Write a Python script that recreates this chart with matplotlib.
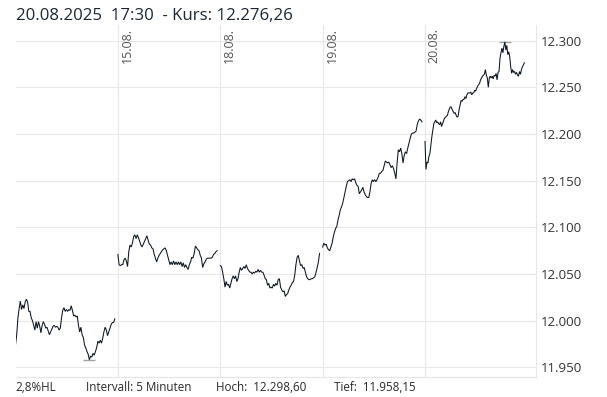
import numpy as np
import matplotlib
matplotlib.use("Agg")
import matplotlib.pyplot as plt

plt.rcParams['font.family'] = ['Open Sans', 'DejaVu Sans']

day_labels = ["14.08.", "15.08.", "18.08.", "19.08.", "20.08."]

day1 = [11974, 11985, 12003, 12013, 12021, 12012, 12017, 12013, 12020, 12023, 12020, 12010, 12010, 12003,
        12000, 11995, 11990, 11999, 11992, 11999, 11994, 11987, 11995, 11999, 11996, 11992, 11993, 11989,
        11985, 11988, 11991, 11994, 11995, 11993, 11994, 11993, 11990, 11992, 12003, 12011, 12014, 12010,
        12012, 12010, 12012, 12011, 12016, 12011, 12005, 12006, 12004, 12005, 11995, 11988, 11993, 11985,
        11982, 11974, 11971, 11967, 11964, 11958.15, 11962, 11961, 11965, 11963, 11967, 11971, 11978, 11976,
        11979, 11976, 11981, 11988, 11993, 11990, 11984, 11988, 11992, 11996, 11998, 11998, 12002]
day2 = [12071, 12060, 12059, 12060, 12060, 12065, 12067, 12064, 12058, 12074, 12081, 12079, 12083, 12090,
        12092, 12088, 12092, 12089, 12085, 12081, 12079, 12082, 12085, 12088, 12091, 12086, 12082, 12081,
        12078, 12077, 12071, 12067, 12063, 12067, 12070, 12072, 12074, 12076, 12077, 12078, 12075, 12070,
        12065, 12060, 12063, 12060, 12064, 12060, 12063, 12060, 12063, 12060, 12063, 12058, 12062, 12057,
        12060, 12057, 12055, 12060, 12063, 12068, 12067, 12072, 12080, 12078, 12076, 12075, 12070, 12067,
        12057, 12061, 12063, 12066, 12067, 12067, 12067, 12067, 12068, 12071, 12072, 12074, 12075]
day3 = [12059, 12058, 12052, 12045, 12036, 12042, 12038, 12039, 12035, 12040, 12045, 12048, 12045, 12048,
        12042, 12045, 12052, 12057, 12054, 12056, 12058, 12056, 12060, 12056, 12054, 12052, 12052, 12050,
        12052, 12051, 12053, 12052, 12055, 12052, 12054, 12052, 12052, 12049, 12045, 12044, 12038, 12040,
        12035, 12036, 12035, 12039, 12037, 12040, 12038, 12044, 12045, 12036, 12033, 12031, 12032, 12026,
        12028, 12029, 12033, 12036, 12038, 12041, 12042, 12049, 12060, 12068, 12070, 12064, 12059, 12060,
        12056, 12057, 12052, 12047, 12045, 12044, 12044, 12045, 12045, 12046, 12047, 12052, 12057, 12063, 12072]
day4 = [12079, 12083, 12081, 12082, 12078, 12076, 12075, 12079, 12083, 12090, 12095, 12099, 12101, 12108,
        12113, 12119, 12122, 12126, 12132, 12138, 12144, 12149, 12150, 12151, 12149, 12152, 12151, 12152,
        12148, 12145, 12144, 12136, 12138, 12140, 12143, 12138, 12135, 12133, 12132, 12132, 12138, 12147,
        12151, 12149, 12151, 12149, 12151, 12154, 12158, 12158, 12160, 12161, 12166, 12171, 12170, 12169,
        12170, 12167, 12164, 12166, 12163, 12158, 12152, 12169, 12183, 12181, 12185, 12179, 12169, 12177,
        12181, 12179, 12185, 12190, 12195, 12200, 12201, 12201, 12202, 12203, 12210, 12214, 12216, 12215, 12213]
day5 = [12192, 12162, 12170, 12169, 12176, 12179, 12188, 12197, 12204, 12211, 12213, 12215, 12212, 12213,
        12211, 12210, 12213, 12208, 12211, 12214, 12217, 12218, 12219, 12220, 12224, 12227, 12229, 12229,
        12226, 12224, 12222, 12223, 12220, 12218, 12219, 12226, 12231, 12236, 12235, 12237, 12237, 12240,
        12238, 12242, 12244, 12244, 12244, 12245, 12242, 12244, 12244, 12247, 12246, 12249, 12251, 12253,
        12254, 12258, 12260, 12262, 12263, 12264, 12269, 12263, 12260, 12250, 12260, 12262, 12260, 12262,
        12259, 12263, 12262, 12265, 12258, 12266, 12267, 12281, 12287, 12292, 12287, 12294, 12298.6, 12290,
        12295, 12285, 12288, 12283, 12272, 12265, 12269, 12266, 12267, 12264, 12266, 12263, 12262, 12267,
        12264, 12269, 12272, 12274, 12276.26]
days = [day1, day2, day3, day4, day5]

y_ticks = [11950, 12000, 12050, 12100, 12150, 12200, 12250, 12300]
y_tick_labels = ["11.950", "12.000", "12.050", "12.100", "12.150", "12.200", "12.250", "12.300"]

title_text = "20.08.2025  17:30  - Kurs: 12.276,26"
footer_texts = ["2,8%HL", "Intervall: 5 Minuten", "Hoch:  12.298,60", "Tief:  11.958,15"]

LINE = '#0b1520'
GRID = '#e8e8e8'

fig = plt.figure(figsize=(6.07, 3.97), dpi=100)
ax = fig.add_axes([15.5 / 607, 1 - 376.7 / 397, (536 - 15.5) / 607, (376.7 - 25) / 397])

xs_all, ys_all = [], []
for i, d in enumerate(days):
    xs = i + np.linspace(0, 0.97, len(d))
    ax.plot(xs, d, color=LINE, lw=0.75, solid_joinstyle='miter', zorder=3)
    xs_all.extend(xs)
    ys_all.extend(d)
xs_all = np.array(xs_all)
ys_all = np.array(ys_all)
imax = int(np.argmax(ys_all))
imin = int(np.argmin(ys_all))
ax.plot([xs_all[imax]], [ys_all[imax]], marker='_', markersize=8.5, mew=1.0, color='#a0a0a0', zorder=2)
ax.plot([xs_all[imin]], [ys_all[imin]], marker='_', markersize=8.5, mew=1.0, color='#a0a0a0', zorder=2)

ax.set_xlim(0, 5.084)
ax.set_ylim(11940, 12316.8)

ax.set_yticks(y_ticks)
ax.set_yticklabels(y_tick_labels)
ax.yaxis.tick_right()
ax.tick_params(axis='y', length=0, pad=3.6, labelsize=9.5, labelcolor='#333333')
ax.set_xticks([1, 2, 3, 4])
ax.tick_params(axis='x', length=0, labelbottom=False)
ax.grid(True, color=GRID, lw=0.8)
ax.set_axisbelow(True)

for s in ['top', 'left']:
    ax.spines[s].set_visible(False)
for s in ['right', 'bottom']:
    ax.spines[s].set_color('#e6e6e6')
    ax.spines[s].set_linewidth(0.8)

for i in range(1, 5):
    ax.annotate(day_labels[i], xy=(i, 1), xycoords=('data', 'axes fraction'),
                xytext=(2, -2), textcoords='offset points', rotation=90,
                ha='left', va='top', fontsize=9, color='#555555')

fig.text(15.5 / 607, 1 - 16 / 397, title_text, fontsize=12.1, color='#1c2733', ha='left', va='center')

footer_x = [15, 86, 216, 334]
for fx, t in zip(footer_x, footer_texts):
    fig.text(fx / 607, 1 - 387.5 / 397, t, fontsize=8.4, color='#2a2a2a', ha='left', va='center')

fig.savefig('out.png', dpi=100)
